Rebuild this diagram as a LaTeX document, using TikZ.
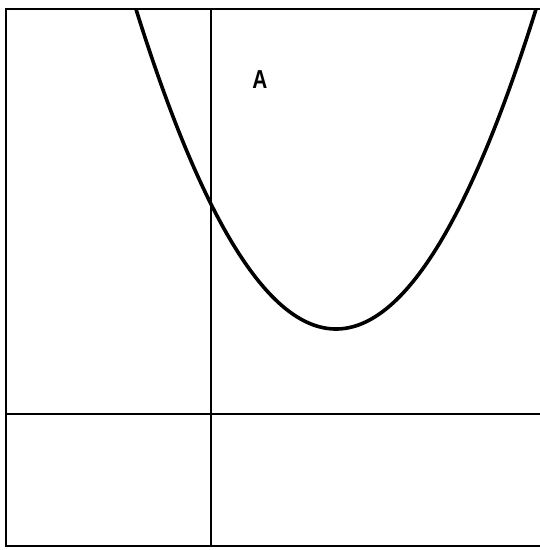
\documentclass[tikz,border=0pt]{standalone}
\usepackage{fontspec}
\setmainfont{Liberation Sans}
\begin{document}
\begin{tikzpicture}[x=1pt,y=-1pt,
  frameline/.style={line width=2.6pt,black},
  axisline/.style={line width=1.8pt,black},
  curveline/.style={line width=3.6pt,black,line join=round},
  lbl/.style={font=\bfseries\fontsize{26}{26}\selectfont,inner sep=0pt,xscale=0.8}]
\useasboundingbox (0,0) rectangle (540,550);
% frame
\draw[frameline] (540,9) -- (6,9) -- (6,546) -- (540,546);
% axes
\draw[axisline] (211,9) -- (211,546);
\draw[axisline] (6,414) -- (540,414);
% parabola
\begin{scope}
\clip (6,9) rectangle (540,546);
\draw[curveline] plot[domain=130:542,samples=120,smooth] (\x,{329-0.008*(\x-336)*(\x-336)});
\end{scope}
\node[lbl] (A) at (260,80) {A};
\end{tikzpicture}
\end{document}
